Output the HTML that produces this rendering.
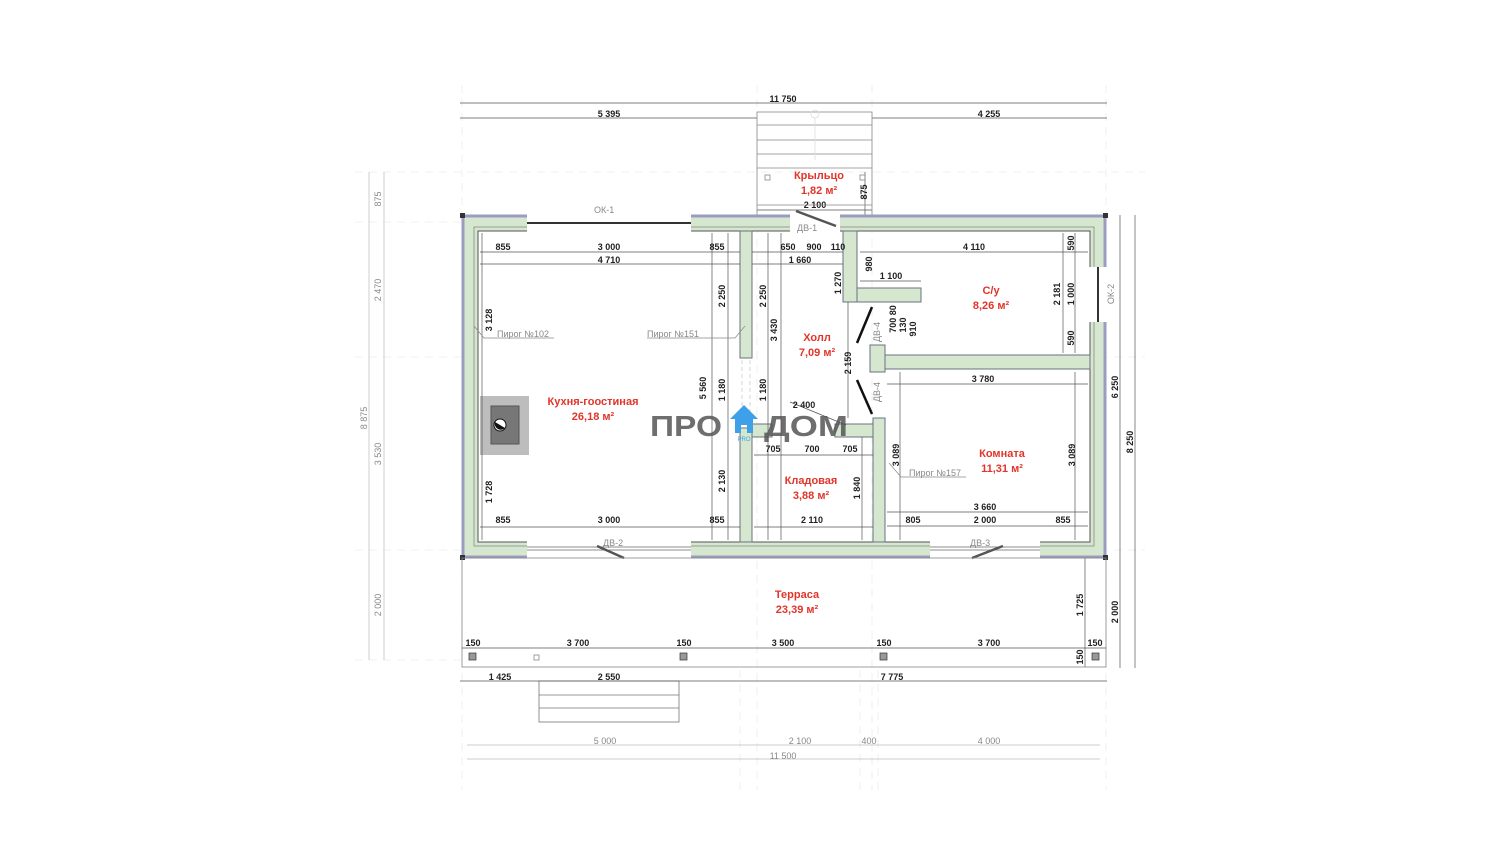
<!DOCTYPE html>
<html><head><meta charset="utf-8"><style>
html,body{margin:0;padding:0;background:#fff;}
svg{display:block;}
text{font-family:"Liberation Sans",sans-serif;}
.d{font-size:9px;font-weight:bold;fill:#222;text-anchor:middle;}
.g{font-size:9px;fill:#888;}
.r{font-size:11px;font-weight:bold;fill:#e0352b;text-anchor:middle;}
.dl{stroke:#555;stroke-width:0.7;fill:none;}
.ll{stroke:#bbb;stroke-width:0.7;fill:none;}
.dash{stroke:#ececec;stroke-width:0.8;stroke-dasharray:8 6;fill:none;}
.w{fill:#d5e8cf;stroke:#6d7080;stroke-width:1;}
</style></head><body>
<svg width="1500" height="849" viewBox="0 0 1500 849" xmlns="http://www.w3.org/2000/svg">
<g class="dash">
<line x1="462" y1="85" x2="462" y2="790"/><line x1="757" y1="85" x2="757" y2="790"/><line x1="872" y1="85" x2="872" y2="790"/><line x1="1106" y1="85" x2="1106" y2="790"/>
<line x1="740" y1="670" x2="740" y2="790"/><line x1="860" y1="670" x2="860" y2="790"/><line x1="878" y1="670" x2="878" y2="790"/>
<line x1="355" y1="172" x2="1145" y2="172"/><line x1="355" y1="222" x2="470" y2="222"/><line x1="355" y1="357" x2="470" y2="357"/><line x1="355" y1="550" x2="470" y2="550"/><line x1="355" y1="660" x2="470" y2="660"/>
<line x1="1100" y1="357" x2="1145" y2="357"/><line x1="1100" y1="550" x2="1145" y2="550"/>
</g>
<g class="dl">
<line x1="460" y1="103" x2="1107" y2="103"/>
<line x1="460" y1="118" x2="757" y2="118"/><line x1="872" y1="118" x2="1107" y2="118"/>
<line x1="757" y1="210" x2="872" y2="210"/>
<line x1="865" y1="172" x2="865" y2="215"/>
</g>
<text class="d" x="783" y="102">11 750</text>
<text class="d" x="609" y="117">5 395</text>
<text class="d" x="989" y="117">4 255</text>
<text class="d" x="815" y="208">2 100</text>
<text class="d" transform="translate(867,192) rotate(-90)">875</text>
<g stroke="#888" stroke-width="0.8" fill="none">
<rect x="757" y="112" width="115" height="103"/>
<line x1="757" y1="125" x2="872" y2="125"/><line x1="757" y1="140" x2="872" y2="140"/><line x1="757" y1="154" x2="872" y2="154"/><line x1="757" y1="168" x2="872" y2="168"/><line x1="757" y1="205" x2="872" y2="205"/>
<rect x="765" y="175" width="5" height="5"/><rect x="860" y="175" width="5" height="5"/>
</g>
<g stroke="#ddd" fill="none" stroke-width="0.8"><circle cx="815" cy="114" r="4"/><line x1="815" y1="118" x2="815" y2="160"/></g>
<text class="r" x="819" y="179">Крыльцо</text>
<text class="r" x="819" y="194">1,82 м²</text>
<g class="ll">
<line x1="369" y1="172" x2="369" y2="660"/><line x1="384" y1="172" x2="384" y2="660"/>
</g>
<text class="g" transform="translate(381,199) rotate(-90)" text-anchor="middle">875</text>
<text class="g" transform="translate(381,290) rotate(-90)" text-anchor="middle">2 470</text>
<text class="g" transform="translate(381,454) rotate(-90)" text-anchor="middle">3 530</text>
<text class="g" transform="translate(381,605) rotate(-90)" text-anchor="middle">2 000</text>
<text class="g" transform="translate(367,418) rotate(-90)" text-anchor="middle">8 875</text>
<g class="dl"><line x1="1120" y1="215" x2="1120" y2="668"/><line x1="1135" y1="215" x2="1135" y2="668"/><line x1="1085" y1="558" x2="1085" y2="667"/></g>
<text class="d" transform="translate(1118,387) rotate(-90)">6 250</text>
<text class="d" transform="translate(1133,442) rotate(-90)">8 250</text>
<text class="d" transform="translate(1118,612) rotate(-90)">2 000</text>
<text class="d" transform="translate(1083,605) rotate(-90)">1 725</text>
<path d="M462,215 H1106 V558 H462 Z M478,231 V542 H1090 V231 Z" fill="#d5e8cf" fill-rule="evenodd" stroke="#6d7080" stroke-width="1"/>
<rect x="463" y="216" width="642" height="341" fill="none" stroke="#9a9dc0" stroke-width="3"/>
<rect x="474" y="227" width="620" height="319" fill="none" stroke="#888" stroke-width="0.8"/>
<rect x="478" y="231" width="612" height="311" fill="none" stroke="#555" stroke-width="1"/>
<g fill="#333"><rect x="460" y="213" width="5" height="5"/><rect x="1103" y="213" width="5" height="5"/><rect x="460" y="555" width="5" height="5"/><rect x="1103" y="555" width="5" height="5"/></g>
<rect x="527" y="214" width="164" height="18" fill="#fff"/>
<line x1="527" y1="223" x2="691" y2="223" stroke="#333" stroke-width="2"/>
<text class="g" x="594" y="213" fill="#777">ОК-1</text>
<rect x="790" y="214" width="50" height="18" fill="#fff"/>
<line x1="796" y1="211" x2="836" y2="226" stroke="#555" stroke-width="2.5"/>
<text class="g" x="797" y="231">ДВ-1</text>
<rect x="1089" y="267" width="18" height="55" fill="#fff"/>
<line x1="1098" y1="267" x2="1098" y2="322" stroke="#333" stroke-width="2"/>
<text class="g" transform="translate(1114,294) rotate(-90)" text-anchor="middle">ОК-2</text>
<rect x="527" y="541" width="164" height="18" fill="#fff"/>
<g stroke="#666" stroke-width="0.8" fill="none"><line x1="527" y1="547" x2="691" y2="547"/><line x1="527" y1="550" x2="691" y2="550"/></g>
<line x1="597" y1="546" x2="624" y2="558" stroke="#555" stroke-width="2.5"/>
<text class="g" x="603" y="546">ДВ-2</text>
<rect x="930" y="541" width="110" height="18" fill="#fff"/>
<g stroke="#666" stroke-width="0.8" fill="none"><line x1="930" y1="547" x2="1040" y2="547"/><line x1="930" y1="550" x2="1040" y2="550"/></g>
<line x1="1003" y1="546" x2="972" y2="558" stroke="#555" stroke-width="2.5"/>
<text class="g" x="970" y="546">ДВ-3</text>
<g class="w">
<rect x="740" y="231" width="12" height="127"/>
<rect x="740" y="428" width="12" height="114"/>
<rect x="752" y="424" width="20" height="13"/>
<rect x="835" y="424" width="50" height="13"/>
<rect x="873" y="418" width="12" height="124"/>
<rect x="843" y="231" width="14" height="71"/>
<rect x="857" y="288" width="64" height="14"/>
<rect x="885" y="355" width="205" height="14"/>
<rect x="870" y="345" width="15" height="27"/>
</g>
<line x1="872" y1="307" x2="857" y2="343" stroke="#111" stroke-width="2.5"/>
<line x1="857" y1="380" x2="872" y2="414" stroke="#111" stroke-width="2.5"/>
<text class="g" transform="translate(880,332) rotate(-90)" text-anchor="middle">ДВ-4</text>
<text class="g" transform="translate(880,392) rotate(-90)" text-anchor="middle">ДВ-4</text>
<g stroke="#ccc" stroke-dasharray="4 3" stroke-width="0.8"><line x1="742" y1="360" x2="742" y2="425"/><line x1="750" y1="360" x2="750" y2="425"/></g>
<rect x="480" y="396" width="49" height="59" fill="#bdbdbd"/>
<rect x="491" y="406" width="28" height="38" fill="#777" stroke="#555"/>
<circle cx="500" cy="425" r="6" fill="#fff" stroke="#111"/><path d="M495,422 L505,428 A6,6 0 0 1 495,422Z" fill="#111"/>
<g class="dl">
<line x1="480" y1="252" x2="740" y2="252"/><line x1="480" y1="264" x2="740" y2="264"/>
<line x1="752" y1="252" x2="843" y2="252"/><line x1="752" y1="264" x2="843" y2="264"/>
<line x1="860" y1="252" x2="1088" y2="252"/>
<line x1="860" y1="281" x2="921" y2="281"/>
<line x1="480" y1="527" x2="740" y2="527"/>
<line x1="754" y1="527" x2="873" y2="527"/><line x1="754" y1="455" x2="873" y2="455"/>
<line x1="887" y1="384" x2="1088" y2="384"/>
<line x1="887" y1="512" x2="1088" y2="512"/><line x1="887" y1="526" x2="1088" y2="526"/>
<line x1="482" y1="233" x2="482" y2="540"/><line x1="728" y1="233" x2="728" y2="540"/><line x1="712" y1="233" x2="712" y2="540"/>
<line x1="768" y1="233" x2="768" y2="540"/><line x1="781" y1="233" x2="781" y2="540"/>
<line x1="848" y1="302" x2="848" y2="418"/><line x1="862" y1="437" x2="862" y2="540"/>
<line x1="1075" y1="233" x2="1075" y2="353"/><line x1="1063" y1="233" x2="1063" y2="353"/>
<line x1="900" y1="372" x2="900" y2="540"/><line x1="1075" y1="372" x2="1075" y2="540"/>
<line x1="790" y1="402" x2="846" y2="425"/>
</g>
<text class="d" x="503" y="250">855</text><text class="d" x="609" y="250">3 000</text><text class="d" x="717" y="250">855</text>
<text class="d" x="609" y="263">4 710</text>
<text class="d" x="788" y="250">650</text><text class="d" x="814" y="250">900</text><text class="d" x="838" y="250">110</text>
<text class="d" x="800" y="263">1 660</text>
<text class="d" x="974" y="250">4 110</text>
<text class="d" x="891" y="279">1 100</text>
<text class="d" x="503" y="523">855</text><text class="d" x="609" y="523">3 000</text><text class="d" x="717" y="523">855</text>
<text class="d" x="812" y="523">2 110</text>
<text class="d" x="773" y="452">705</text><text class="d" x="812" y="452">700</text><text class="d" x="850" y="452">705</text>
<text class="d" x="804" y="408">2 400</text>
<text class="d" x="983" y="382">3 780</text>
<text class="d" x="985" y="510">3 660</text>
<text class="d" x="913" y="523">805</text><text class="d" x="985" y="523">2 000</text><text class="d" x="1063" y="523">855</text>
<text class="d" transform="translate(492,320) rotate(-90)">3 128</text>
<text class="d" transform="translate(492,492) rotate(-90)">1 728</text>
<text class="d" transform="translate(725,296) rotate(-90)">2 250</text>
<text class="d" transform="translate(766,296) rotate(-90)">2 250</text>
<text class="d" transform="translate(777,330) rotate(-90)">3 430</text>
<text class="d" transform="translate(706,388) rotate(-90)">5 560</text>
<text class="d" transform="translate(725,390) rotate(-90)">1 180</text>
<text class="d" transform="translate(766,390) rotate(-90)">1 180</text>
<text class="d" transform="translate(725,481) rotate(-90)">2 130</text>
<text class="d" transform="translate(841,283) rotate(-90)">1 270</text>
<text class="d" transform="translate(872,264) rotate(-90)">980</text>
<text class="d" transform="translate(851,363) rotate(-90)">2 159</text>
<text class="d" transform="translate(896,319) rotate(-90)">700 80</text>
<text class="d" transform="translate(906,325) rotate(-90)">130</text>
<text class="d" transform="translate(916,329) rotate(-90)">910</text>
<text class="d" transform="translate(1074,243) rotate(-90)">590</text>
<text class="d" transform="translate(1074,294) rotate(-90)">1 000</text>
<text class="d" transform="translate(1060,294) rotate(-90)">2 181</text>
<text class="d" transform="translate(1074,338) rotate(-90)">590</text>
<text class="d" transform="translate(860,488) rotate(-90)">1 840</text>
<text class="d" transform="translate(899,455) rotate(-90)">3 089</text>
<text class="d" transform="translate(1075,455) rotate(-90)">3 089</text>
<g stroke="#888" stroke-width="0.7" fill="none">
<polyline points="474,326 484,338 554,338"/><polyline points="745,326 735,338 647,338"/><polyline points="889,463 901,477 966,477"/>
</g>
<text class="g" x="497" y="337">Пирог №102</text>
<text class="g" x="647" y="337">Пирог №151</text>
<text class="g" x="909" y="476">Пирог №157</text>
<text class="r" x="593" y="405">Кухня-гоостиная</text><text class="r" x="593" y="420">26,18 м²</text>
<text class="r" x="817" y="341">Холл</text><text class="r" x="817" y="356">7,09 м²</text>
<text class="r" x="991" y="294">С/у</text><text class="r" x="991" y="309">8,26 м²</text>
<text class="r" x="811" y="484">Кладовая</text><text class="r" x="811" y="499">3,88 м²</text>
<text class="r" x="1002" y="457">Комната</text><text class="r" x="1002" y="472">11,31 м²</text>
<text class="r" x="797" y="598">Терраса</text><text class="r" x="797" y="613">23,39 м²</text>
<text x="650" y="436" font-size="29" font-weight="bold" fill="#555" opacity="0.85" textLength="72" lengthAdjust="spacingAndGlyphs" font-family="Liberation Sans,sans-serif">ПРО</text>
<text x="764" y="436" font-size="29" font-weight="bold" fill="#555" opacity="0.85" textLength="84" lengthAdjust="spacingAndGlyphs" font-family="Liberation Sans,sans-serif">ДОМ</text>
<path d="M744,405 L730,419 H735 V433 H741 V425 H747 V433 H753 V419 H758 Z" fill="#3ea0e8"/>
<text x="744" y="441" font-size="6" fill="#3ea0e8" text-anchor="middle">PRO</text>
<rect x="462" y="558" width="644" height="109" fill="none" stroke="#888" stroke-width="0.8"/>
<line x1="462" y1="648" x2="1106" y2="648" stroke="#555" stroke-width="0.7"/>
<g fill="#999" stroke="#333" stroke-width="0.7"><rect x="469" y="653" width="7" height="7"/><rect x="680" y="653" width="7" height="7"/><rect x="880" y="653" width="7" height="7"/><rect x="1092" y="653" width="7" height="7"/></g>
<rect x="534" y="655" width="5" height="5" fill="none" stroke="#777" stroke-width="0.7"/>
<text class="d" x="473" y="646">150</text><text class="d" x="578" y="646">3 700</text><text class="d" x="684" y="646">150</text><text class="d" x="783" y="646">3 500</text><text class="d" x="884" y="646">150</text><text class="d" x="989" y="646">3 700</text><text class="d" x="1095" y="646">150</text>
<text class="d" transform="translate(1083,657) rotate(-90)">150</text>
<g stroke="#777" stroke-width="0.8" fill="none"><rect x="539" y="681" width="140" height="41"/><line x1="539" y1="695" x2="679" y2="695"/><line x1="539" y1="708" x2="679" y2="708"/></g>
<g class="dl"><line x1="460" y1="681" x2="1107" y2="681"/></g>
<text class="d" x="500" y="680">1 425</text><text class="d" x="609" y="680">2 550</text><text class="d" x="892" y="680">7 775</text>
<g class="ll"><line x1="467" y1="745" x2="1100" y2="745"/><line x1="467" y1="759" x2="1100" y2="759"/></g>
<text class="g" x="605" y="744" text-anchor="middle">5 000</text><text class="g" x="800" y="744" text-anchor="middle">2 100</text><text class="g" x="869" y="744" text-anchor="middle">400</text><text class="g" x="989" y="744" text-anchor="middle">4 000</text>
<text class="g" x="783" y="759" text-anchor="middle">11 500</text>
</svg>
</body></html>
